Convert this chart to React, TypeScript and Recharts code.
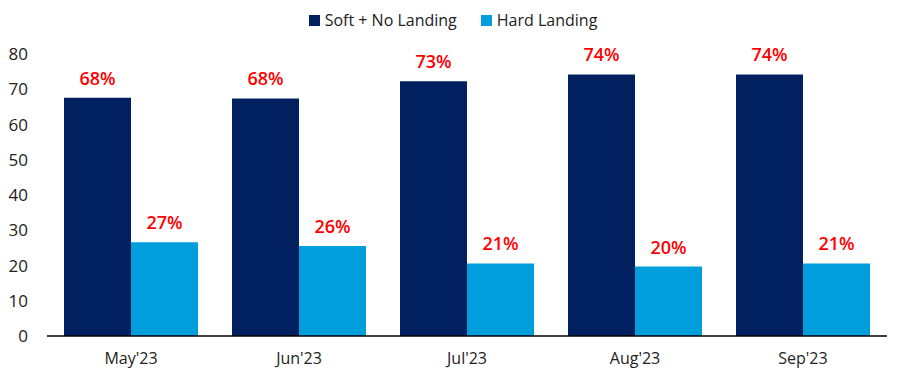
import React from 'react';
import { BarChart, Bar, XAxis, YAxis, Legend, LabelList } from 'recharts';

const categories = ["May'23", "Jun'23", "Jul'23", "Aug'23", "Sep'23"];
const softNoLanding = [67.6, 67.4, 72.3, 74.2, 74.2];
const hardLanding = [26.6, 25.5, 20.6, 19.7, 20.6];
const softLabels = ['68%', '68%', '73%', '74%', '74%'];
const hardLabels = ['27%', '26%', '21%', '20%', '21%'];
const yTicks = [0, 10, 20, 30, 40, 50, 60, 70, 80];

const data = categories.map((c, i) => ({
  name: c,
  soft: softNoLanding[i],
  hard: hardLanding[i],
  softLabel: softLabels[i],
  hardLabel: hardLabels[i],
}));

const DARK = '#002060';
const LIGHT = '#009FDB';
const FONT = '"Open Sans", sans-serif';

const LegendContent = () => (
  <div style={{ display: 'flex', justifyContent: 'center', fontFamily: FONT, fontSize: 16, color: '#222' }}>
    {[{ c: DARK, t: 'Soft + No Landing' }, { c: LIGHT, t: 'Hard Landing' }].map((it, i) => (
      <div key={i} style={{ display: 'flex', alignItems: 'center', marginRight: i === 0 ? 24 : 0 }}>
        <span style={{ width: 11, height: 11, background: it.c, display: 'inline-block', marginRight: 5 }} />
        <span>{it.t}</span>
      </div>
    ))}
  </div>
);

export default function App() {
  return (
    <BarChart
      width={890}
      height={377}
      data={data}
      margin={{ top: 24, right: 11, bottom: 19, left: 0 }}
      barCategoryGap={17}
      barGap={0}
    >
      <Legend
        verticalAlign="top"
        content={<LegendContent />}
        wrapperStyle={{ top: 1, left: 0, width: 890 }}
      />
      <XAxis
        dataKey="name"
        axisLine={{ stroke: '#000', strokeWidth: 1.5 }}
        tickLine={false}
        tick={{ fill: '#222', fontSize: 16, fontFamily: FONT }}
        tickMargin={11}
        height={30}
      />
      <YAxis
        domain={[0, 80]}
        ticks={yTicks}
        axisLine={false}
        tickLine={false}
        width={39}
        tickMargin={13}
        tick={{ fill: '#222', fontSize: 17, fontFamily: FONT }}
      />
      <Bar dataKey="soft" fill={DARK} isAnimationActive={false}>
        <LabelList dataKey="softLabel" position="top" offset={13} fill="#FF0000" fontSize={18} fontWeight={600} fontFamily={FONT} />
      </Bar>
      <Bar dataKey="hard" fill={LIGHT} isAnimationActive={false}>
        <LabelList dataKey="hardLabel" position="top" offset={13} fill="#FF0000" fontSize={18} fontWeight={600} fontFamily={FONT} />
      </Bar>
    </BarChart>
  );
}
